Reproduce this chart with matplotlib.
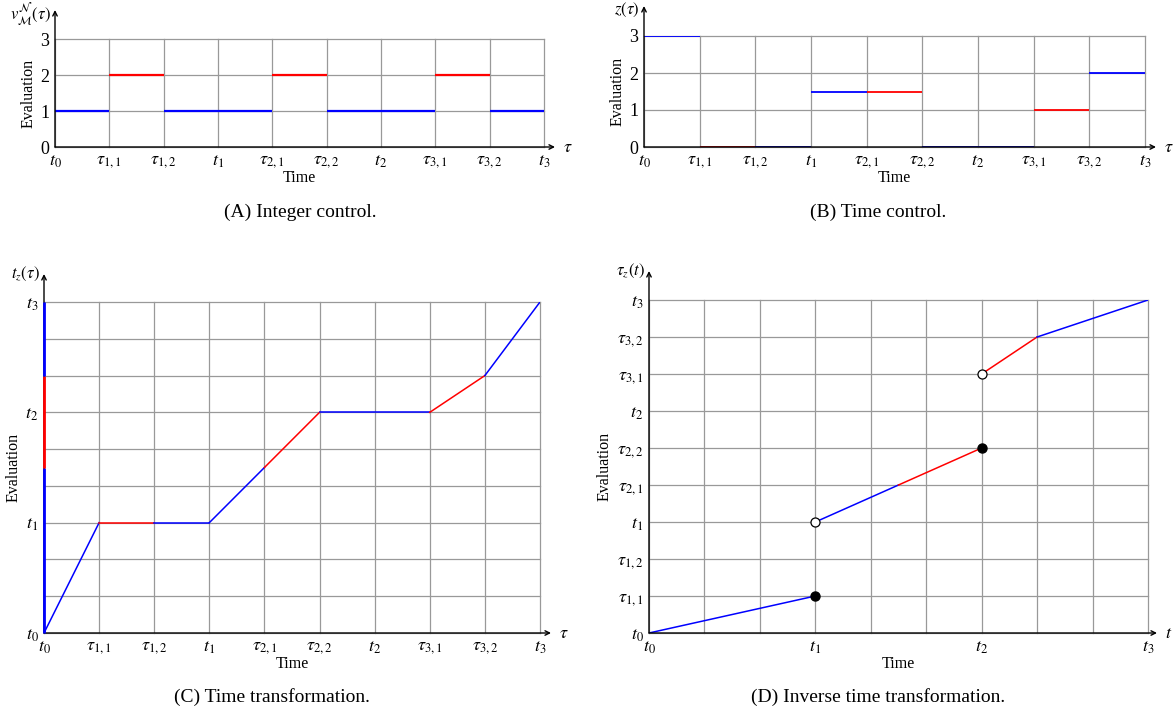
import matplotlib
matplotlib.use('Agg')
import matplotlib.pyplot as plt

plt.rcParams['font.family'] = ['Liberation Serif', 'DejaVu Serif']
plt.rcParams['mathtext.fontset'] = 'stix'

W, H = 1175, 717
BLUE, RED = '#0000ff', '#ff0000'
col = {'b': BLUE, 'r': RED}

# tick labels
tau_ticks = [r'$t_0$', r'$\tau_{1,1}$', r'$\tau_{1,2}$', r'$t_1$', r'$\tau_{2,1}$',
             r'$\tau_{2,2}$', r'$t_2$', r'$\tau_{3,1}$', r'$\tau_{3,2}$', r'$t_3$']
t_ticks = [r'$t_0$', r'$t_1$', r'$t_2$', r'$t_3$']
t_pos = [0, 3, 6, 9]

# (A) integer control
int_start = [0, 1, 2, 4, 5, 7, 8]
int_end = [1, 2, 4, 5, 7, 8, 9]
int_val = [1, 2, 1, 2, 1, 2, 1]
int_mode = ['b', 'r', 'b', 'r', 'b', 'r', 'b']

# (B) time control
tc_start = [0, 1, 2, 3, 4, 5, 7, 8]
tc_end = [1, 2, 3, 4, 5, 7, 8, 9]
tc_val = [3, 0, 0, 1.5, 1.5, 0, 1, 2]
tc_mode = ['b', 'r', 'b', 'b', 'r', 'b', 'r', 'b']

# (C) time transformation
tz_x = [0, 1, 2, 3, 4, 5, 7, 8, 9]
tz_y = [0, 3, 3, 3, 4.5, 6, 6, 7, 9]
tz_mode = ['b', 'r', 'b', 'b', 'r', 'b', 'r', 'b']
stripe_lo = [0, 4.5, 7]
stripe_hi = [4.5, 7, 9]
stripe_mode = ['b', 'r', 'b']

# (D) inverse time transformation
inv_x0 = [0, 3, 4.5, 6, 7]
inv_y0 = [0, 3, 4, 7, 8]
inv_x1 = [3, 4.5, 6, 7, 9]
inv_y1 = [1, 4, 5, 8, 9]
inv_mode = ['b', 'b', 'r', 'r', 'b']
closed_x, closed_y = [3, 6], [1, 5]
open_x, open_y = [3, 6], [3, 7]


def make_ax(x0, y0, x1, y1):
    return fig.add_axes([x0 / W, 1 - y1 / H, (x1 - x0) / W, (y1 - y0) / H])


def style(ax, xmax, ymax, top_px, right_px, ylab_top, xarrow_lab, lab_drop=0):
    ax.set_xlim(0, xmax)
    ax.set_ylim(0, ymax)
    for s in ax.spines.values():
        s.set_visible(False)
    ax.grid(True, color='#999999', lw=0.9)
    for gl in ax.get_xgridlines() + ax.get_ygridlines():
        gl.set_clip_on(False)
    ax.set_axisbelow(True)
    ax.tick_params(length=0, labelsize=13, pad=4)
    bbox = ax.get_position()
    ytop = 1 + top_px / (bbox.height * H)
    xend = 1 + right_px / (bbox.width * W)
    ax.annotate('', xy=(0, ytop), xytext=(0, 0), xycoords='axes fraction',
                arrowprops=dict(arrowstyle='->', lw=1.0, color='black',
                                shrinkA=0, shrinkB=0, mutation_scale=8))
    ax.annotate('', xy=(xend, 0), xytext=(0, 0), xycoords='axes fraction',
                arrowprops=dict(arrowstyle='->', lw=1.0, color='black',
                                shrinkA=0, shrinkB=0, mutation_scale=8))
    ax.text(-0.008, ytop - lab_drop / (bbox.height * H), ylab_top,
            transform=ax.transAxes, ha='right', va='center', fontsize=12)
    ax.text(xend + 8 / (bbox.width * W), 0, xarrow_lab, transform=ax.transAxes,
            ha='left', va='center', fontsize=13)
    ax.set_xlabel('Time', fontsize=11.5, labelpad=0)
    ax.set_ylabel('Evaluation', fontsize=11.5, labelpad=3)


fig = plt.figure(figsize=(W / 100, H / 100), dpi=100)

# (A)
axA = make_ax(55, 39, 544, 147)
for s, e, v, m in zip(int_start, int_end, int_val, int_mode):
    axA.plot([s, e], [v, v], color=col[m], lw=1.6, solid_capstyle='butt')
axA.set_xticks(range(10))
axA.set_xticklabels(tau_ticks)
axA.set_yticks([0, 1, 2, 3])
axA.set_yticklabels(['0', '1', '2', '3'], fontsize=13)
style(axA, 9, 3, 29, 11, r'$v^{\mathcal{N}}_{\mathcal{M}}(\tau)$', r'$\tau$', lab_drop=5)

# (B)
axB = make_ax(644, 36, 1145, 147)
for s, e, v, m in zip(tc_start, tc_end, tc_val, tc_mode):
    axB.plot([s, e], [v, v], color=col[m], lw=1.3, solid_capstyle='butt')
axB.set_xticks(range(10))
axB.set_xticklabels(tau_ticks)
axB.set_yticks([0, 1, 2, 3])
axB.set_yticklabels(['0', '1', '2', '3'], fontsize=13)
style(axB, 9, 3, 30, 11, r'$z(\tau)$', r'$\tau$', lab_drop=4)

# (C)
axC = make_ax(44, 302, 540, 633)
for i, m in enumerate(tz_mode):
    axC.plot(tz_x[i:i + 2], tz_y[i:i + 2], color=col[m], lw=1.1)
for lo, hi, m in zip(stripe_lo, stripe_hi, stripe_mode):
    axC.plot([0, 0], [lo, hi], color=col[m], lw=2.0, clip_on=False,
             solid_capstyle='butt', zorder=5)
axC.set_xticks(range(10))
axC.set_xticklabels(tau_ticks)
axC.set_yticks(range(10))
axC.set_yticklabels([t_ticks[t_pos.index(k)] if k in t_pos else '' for k in range(10)])
style(axC, 9, 9, 28, 11, r'$t_z(\tau)$', r'$\tau$')

# (D)
axD = make_ax(649, 300, 1148, 633)
for x0, y0, x1, y1, m in zip(inv_x0, inv_y0, inv_x1, inv_y1, inv_mode):
    axD.plot([x0, x1], [y0, y1], color=col[m], lw=1.1)
axD.plot(closed_x, closed_y, 'o', color='black', ms=6.5, zorder=6)
axD.plot(open_x, open_y, 'o', mfc='white', mec='black', mew=0.9, ms=6.5, zorder=6)
axD.set_xticks(range(10))
axD.set_xticklabels([t_ticks[t_pos.index(k)] if k in t_pos else '' for k in range(10)])
axD.set_yticks(range(10))
axD.set_yticklabels(tau_ticks)
style(axD, 9, 9, 29, 9, r'$\tau_z(t)$', r'$t$')

# captions
fig.text(300 / W, 1 - 212 / H, '(A) Integer control.', ha='center', va='center', fontsize=14)
fig.text(878 / W, 1 - 212 / H, '(B) Time control.', ha='center', va='center', fontsize=14)
fig.text(272 / W, 1 - 697 / H, '(C) Time transformation.', ha='center', va='center', fontsize=14)
fig.text(878 / W, 1 - 697 / H, '(D) Inverse time transformation.', ha='center', va='center', fontsize=14)

fig.savefig('out.png', dpi=100)
